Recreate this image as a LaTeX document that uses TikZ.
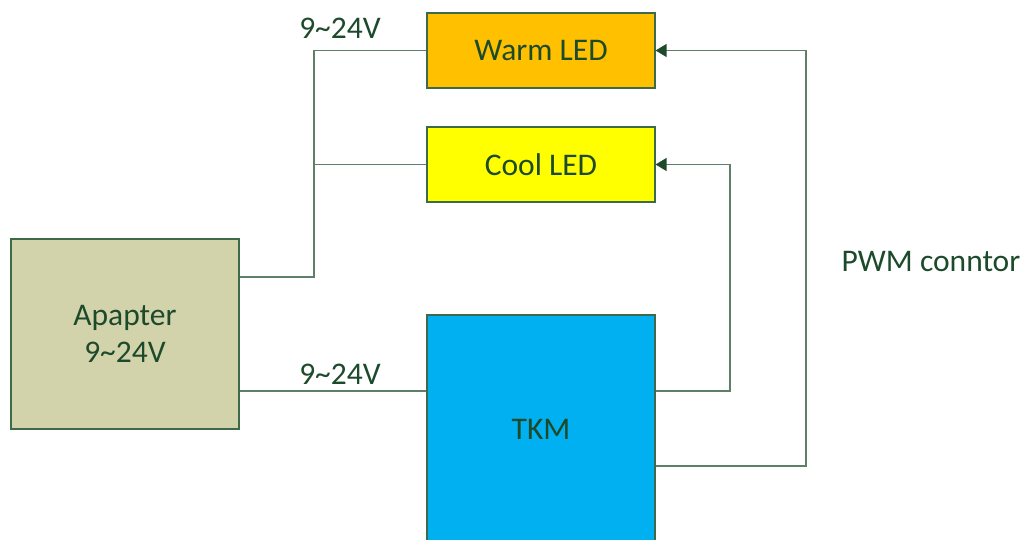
\documentclass[tikz,border=0pt]{standalone}
\usepackage{fontspec}
\setmainfont{Carlito}
\usetikzlibrary{arrows.meta}
\definecolor{txt}{HTML}{1D4A2B}
\definecolor{bord}{HTML}{3C6A4A}
\definecolor{wire}{HTML}{5E8068}
\definecolor{warm}{HTML}{FFC000}
\definecolor{cool}{HTML}{FFFF00}
\definecolor{adapt}{HTML}{D3D3AB}
\definecolor{tkm}{HTML}{00B0F0}
\tikzset{
  blk/.style={draw=bord, line width=1.2pt, text=txt, inner sep=0pt, align=center,
    font=\fontsize{31.5}{37}\selectfont},
  wireline/.style={draw=wire, line width=1.3pt},
  arr/.style={wireline, -{Triangle[length=11pt,width=13pt,fill=txt,color=txt]}},
  lbl/.style={text=txt, font=\fontsize{31.5}{37}\selectfont, inner sep=0pt}
}
\begin{document}
\begin{tikzpicture}[x=1pt,y=-1pt]
\useasboundingbox (0,0) rectangle (1029,540);
\begin{scope}
\clip (0,0) rectangle (1029,540);
\node[blk, fill=warm, minimum width=228pt, minimum height=75pt] (warm) at (541,50.5) {Warm LED};
\node[blk, fill=cool, minimum width=228pt, minimum height=75pt] (cool) at (541,164.5) {Cool LED};
\node[blk, fill=adapt, minimum width=228pt, minimum height=190pt] (adp) at (125,334) {Apapter\\9\textasciitilde 24V};
\node[blk, fill=tkm, minimum width=228pt, minimum height=228pt] (tkm) at (541,429) {TKM};

\coordinate (j1) at (314,277);
\coordinate (j2) at (314,164.5);
\draw[wireline] (adp.east |- j1) -- (j1) -- (314,50.5) -- (warm.west);
\draw[wireline] (j2) -- (cool.west);
\draw[wireline] (adp.east |- 0,391) -- (tkm.west |- 0,391);
\draw[arr] (tkm.east |- 0,391) -- (730,391) -- (730,164.5) -- (cool.east);
\draw[arr] (tkm.east |- 0,466) -- (806,466) -- (806,50.5) -- (warm.east);

\node[lbl] (v1) at (340,28) {9\textasciitilde 24V};
\node[lbl] (v2) at (340,374) {9\textasciitilde 24V};
\node[lbl] (pwm) at (931,262) {PWM conntor};
\end{scope}
\end{tikzpicture}
\end{document}
